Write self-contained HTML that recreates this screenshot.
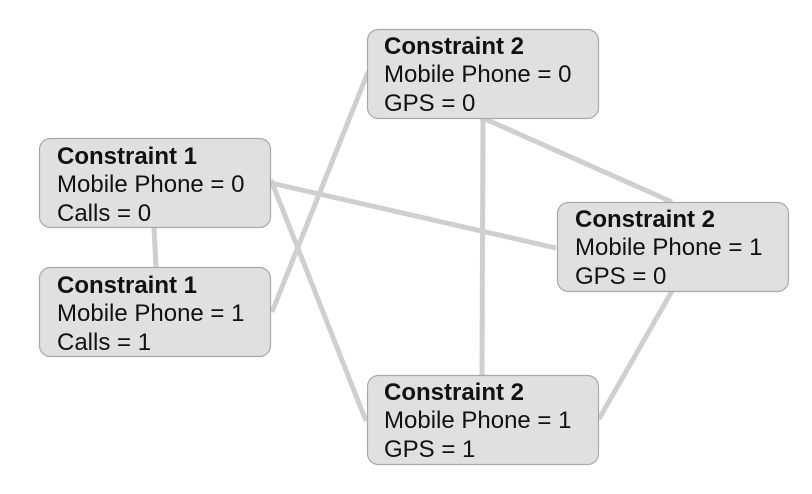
<!DOCTYPE html>
<html><head><style>html,body{margin:0;padding:0;background:#fff}
text{font-family:"Liberation Sans",Arial,Helvetica,sans-serif;font-size:24px;fill:#111}</style></head>
<body>
<svg width="812" height="494" xmlns="http://www.w3.org/2000/svg" style="display:block">
<g stroke="#cfcfcf" stroke-width="5" fill="none">
<line x1="154" y1="228" x2="156" y2="267"/>
<line x1="272" y1="312" x2="368" y2="72"/>
<line x1="271" y1="183" x2="556" y2="248"/>
<line x1="271" y1="180" x2="366" y2="421"/>
<line x1="483" y1="118" x2="482" y2="376"/>
<line x1="483" y1="118" x2="672" y2="202"/>
<line x1="672" y1="291" x2="599" y2="419"/>
</g>
<g fill="#e0e0e0" stroke="#a8a8a8" stroke-width="1.2">
<rect x="39.5" y="138.5" width="231" height="89" rx="11"/>
<rect x="39.5" y="267.5" width="231" height="89" rx="11"/>
<rect x="367.5" y="29.5" width="231" height="89" rx="11"/>
<rect x="557.5" y="202.5" width="231" height="89" rx="11"/>
<rect x="367.5" y="375.5" width="231" height="89" rx="11"/>
</g>
<g>
<text x="57" y="164"><tspan font-weight="bold">Constraint 1</tspan><tspan x="57" y="192">Mobile Phone = 0</tspan><tspan x="57" y="221">Calls = 0</tspan></text>
<text x="57" y="293"><tspan font-weight="bold">Constraint 1</tspan><tspan x="57" y="321">Mobile Phone = 1</tspan><tspan x="57" y="350">Calls = 1</tspan></text>
<text x="384" y="54"><tspan font-weight="bold">Constraint 2</tspan><tspan x="384" y="82">Mobile Phone = 0</tspan><tspan x="384" y="111">GPS = 0</tspan></text>
<text x="575" y="227"><tspan font-weight="bold">Constraint 2</tspan><tspan x="575" y="255">Mobile Phone = 1</tspan><tspan x="575" y="284">GPS = 0</tspan></text>
<text x="384" y="400"><tspan font-weight="bold">Constraint 2</tspan><tspan x="384" y="428">Mobile Phone = 1</tspan><tspan x="384" y="457">GPS = 1</tspan></text>
</g>
</svg>
</body></html>
